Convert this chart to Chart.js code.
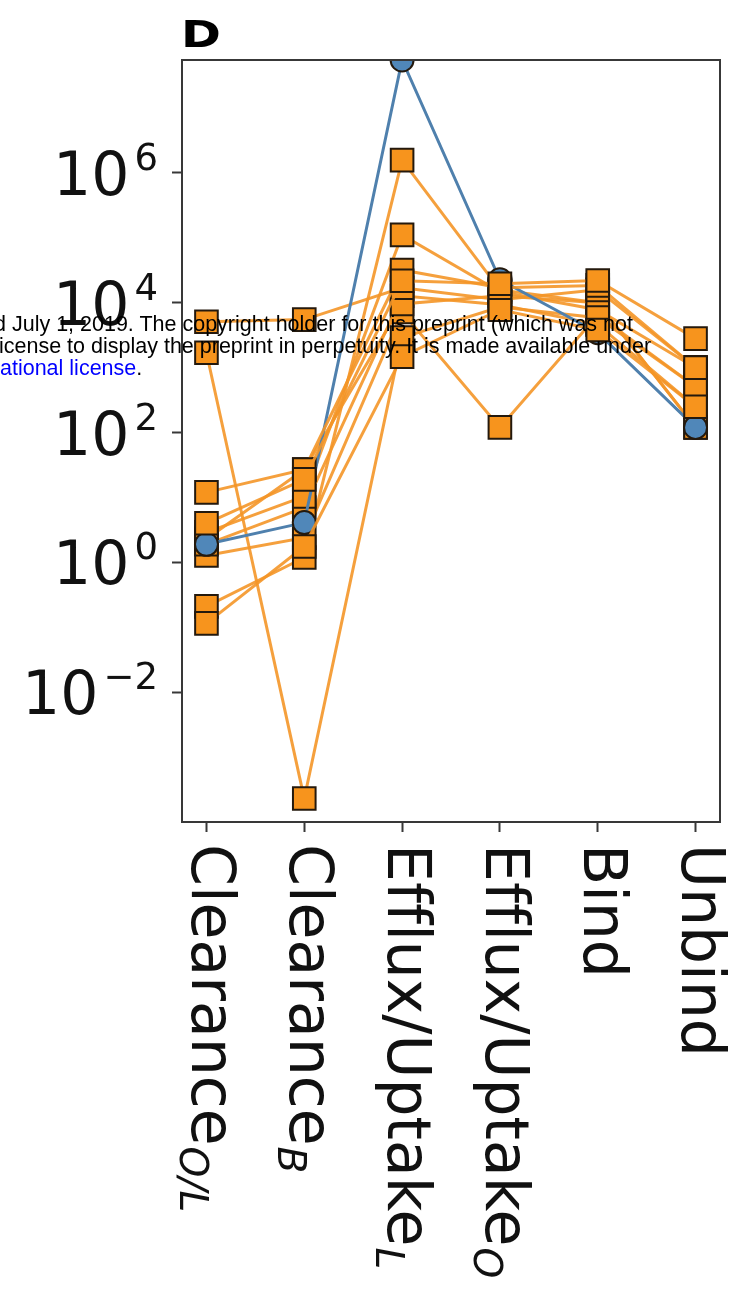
<!DOCTYPE html>
<html>
<head>
<meta charset="utf-8">
<script src="https://cdn.jsdelivr.net/npm/chart.js@4.4.1/dist/chart.umd.min.js"></script>
<style>
  html, body { margin: 0; padding: 0; background: #fff; }
  #wrap { position: relative; width: 738px; height: 1309px; overflow: hidden; }
  #c { position: absolute; left: 0; top: 0; }
  .note { position: absolute; font: 21.5px "Liberation Sans", Arial, sans-serif; line-height: 22px; color: #000; white-space: pre; }
  .note .lnk { color: #00f; }
</style>
</head>
<body>
<div id="wrap">
  <canvas id="c" width="738" height="1309"></canvas>
  <div class="note" style="left:-6px; top:313px;">d July 1, 2019. The copyright holder for this preprint (which was not</div>
  <div class="note" style="left:-1px; top:335px;">icense to display the preprint in perpetuity. It is made available under</div>
  <div class="note" style="left:0px; top:357px;"><span class="lnk">ational license</span>.</div>
</div>
<script>
// parameter categories (subscripts drawn in italic below the baseline)
const CATEGORIES = ['Clearance', 'Clearance', 'Efflux/Uptake', 'Efflux/Uptake', 'Bind', 'Unbind'];
const CATEGORY_SUBS = ['O/L', 'B', 'L', 'O', '', ''];

const Y_TICKS = [1e-2, 1e0, 1e2, 1e4, 1e6];
const Y_EXPONENTS = ['\u22122', '0', '2', '4', '6'];

// best fit (blue)
const bestFit = [1.9, 4.1, 5.5e7, 2.26e4, 3.46e3, 120];

// alternative fits (orange)
const fit01 = [5.1e3, 5.5e3, 1.7e4, 1.11e4, 1.58e4, 1.0e3];
const fit02 = [1.7e3, 2.3e-4, 2.9e3, 8.6e3, 5.9e3, 5.1e2];
const fit03 = [2.3, 27, 9.6e3, 1.28e4, 1.0e4, 1.2e2];
const fit04 = [4.0, 19, 2.18e4, 1.96e4, 2.2e4, 2.8e3];
const fit05 = [2.9, 10.4, 1.11e5, 1.48e4, 7.8e3, 1.0e3];
const fit06 = [1.9, 7.0, 1.28e4, 9.3e3, 4.6e3, 2.5e2];
const fit07 = [1.28, 2.4, 7.2e3, 1.2e2, 6.5e3, 5.1e2];
const fit08 = [0.21, 1.19, 1.58e6, 1.58e4, 1.0e4, 1.2e2];
const fit09 = [0.115, 1.76, 1.48e3, 7.8e3, 3.8e3, 2.5e2];
const fit10 = [12, 27, 3.2e4, 1.7e4, 1.85e4, 1.0e3];

// fits drawn above the blue line
const FRONT_FITS = [fit04, fit10, fit09];
const BACK_FITS = [fit01, fit02, fit03, fit05, fit06, fit07, fit08];

const ORANGE = '#f7941d';
const ORANGE_LINE = 'rgba(244,150,40,0.9)';
const BLUE = '#5087b9';
const BLUE_LINE = '#4f80ad';
const EDGE = '#24190d';
const SPINE = '#383838';

const FONT = '"DejaVu Sans", sans-serif';

const toPoints = vals => vals.map((v, i) => ({ x: i, y: v }));

const orangeSet = (vals, order) => ({
  data: toPoints(vals),
  order,
  borderColor: ORANGE_LINE,
  borderWidth: 3,
  pointStyle: 'rect',
  pointRadius: 16,
  pointBackgroundColor: ORANGE,
  pointBorderColor: EDGE,
  pointBorderWidth: 2,
  clip: 0,
});

const datasets = [
  ...FRONT_FITS.map(v => orangeSet(v, 0)),
  {
    data: toPoints(bestFit),
    order: 1,
    borderColor: BLUE_LINE,
    borderWidth: 3,
    pointStyle: 'circle',
    pointRadius: 11.5,
    pointBackgroundColor: BLUE,
    pointBorderColor: EDGE,
    pointBorderWidth: 2,
    clip: 0,
  },
  ...BACK_FITS.map(v => orangeSet(v, 2)),
];

// keep "ff"/"fl" as separate glyphs
const noLigatures = s => s.replace(/f(?=[fl])/g, 'f\u200C');

// tick labels, frame and panel letter
const decorPlugin = {
  id: 'decor',
  afterDatasetsDraw(chart) {
    const { ctx, chartArea: a } = chart;
    ctx.save();
    ctx.strokeStyle = SPINE;
    ctx.lineWidth = 2;
    ctx.strokeRect(a.left, a.top, a.right - a.left, a.bottom - a.top);
    ctx.restore();
  },
  afterDraw(chart) {
    const { ctx, scales } = chart;
    ctx.save();
    ctx.fillStyle = '#111';
    ctx.textBaseline = 'alphabetic';
    ctx.textAlign = 'left';

    // y: 10^n
    const right = 158;
    Y_TICKS.forEach((v, i) => {
      const py = scales.y.getPixelForValue(v);
      ctx.font = '37px ' + FONT;
      const ew = ctx.measureText(Y_EXPONENTS[i]).width;
      const sx = right - ew;
      ctx.fillText(Y_EXPONENTS[i], sx, py - 3);
      ctx.font = '60px ' + FONT;
      const bw = ctx.measureText('10').width;
      ctx.fillText('10', sx - 5 - bw, py + 22);
    });

    // x: rotated category names
    CATEGORIES.forEach((name, i) => {
      const px = scales.x.getPixelForValue(i);
      const text = noLigatures(name);
      ctx.save();
      ctx.translate(px - 14, 844);
      ctx.rotate(Math.PI / 2);
      ctx.font = '60px ' + FONT;
      const w = ctx.measureText(text).width;
      ctx.fillText(text, 0, 0);
      if (CATEGORY_SUBS[i]) {
        ctx.font = 'italic 39px ' + FONT;
        ctx.fillText(CATEGORY_SUBS[i], w + 1, 12);
      }
      ctx.restore();
    });

    // panel letter
    ctx.save();
    ctx.translate(181, 47);
    ctx.scale(1.3, 1);
    ctx.font = 'bold 37px ' + FONT;
    ctx.fillStyle = '#000';
    ctx.fillText('D', 0, 0);
    ctx.restore();
    ctx.restore();
  },
};

const axisCommon = {
  grid: { drawOnChartArea: false, drawTicks: true, tickLength: 10, tickWidth: 2, tickColor: SPINE },
  border: { display: true, color: SPINE, width: 2 },
  ticks: { display: false },
};

new Chart(document.getElementById('c'), {
  type: 'line',
  data: { datasets },
  options: {
    responsive: false,
    animation: false,
    devicePixelRatio: 1,
    layout: { padding: { top: 60, right: 13, left: 0, bottom: 0 } },
    plugins: { legend: { display: false }, tooltip: { enabled: false } },
    scales: {
      x: {
        type: 'linear',
        min: -0.25,
        max: 5.25,
        afterBuildTicks: s => { s.ticks = CATEGORIES.map((_, i) => ({ value: i })); },
        afterFit: s => { s.height = 1309 - 822; },
        ...axisCommon,
      },
      y: {
        type: 'logarithmic',
        min: 1e-4,
        max: 5.5e7,
        afterBuildTicks: s => { s.ticks = Y_TICKS.map(v => ({ value: v })); },
        afterFit: s => { s.width = 182; },
        ...axisCommon,
      },
    },
  },
  plugins: [decorPlugin],
});
</script>
</body>
</html>
